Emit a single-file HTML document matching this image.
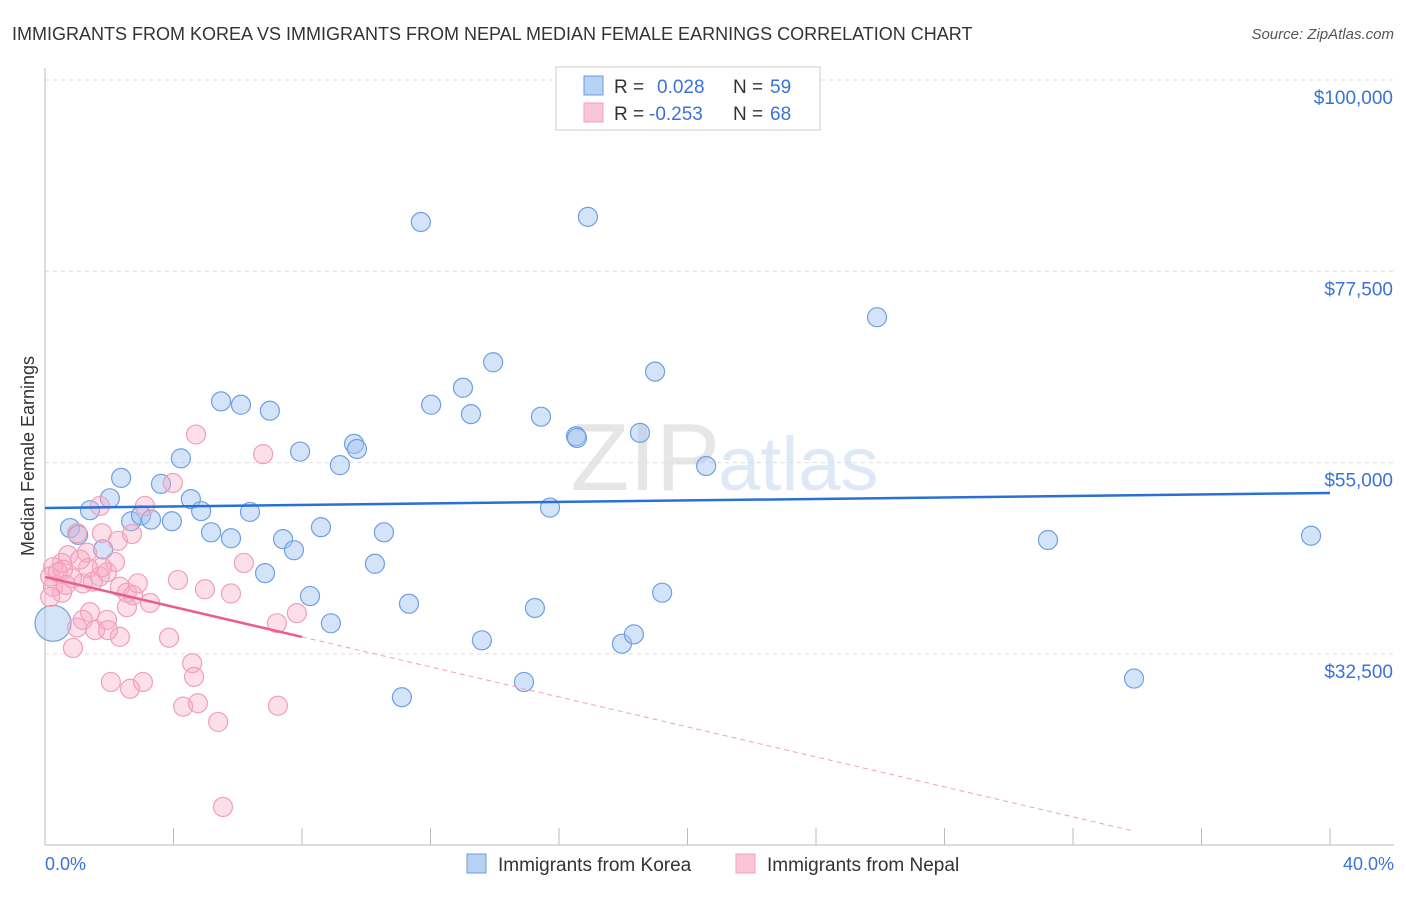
<!DOCTYPE html>
<html><head><meta charset="utf-8"><style>
body{margin:0;background:#fff;font-family:"Liberation Sans",sans-serif}
svg text{font-family:"Liberation Sans",sans-serif}
</style></head><body>
<svg id="chart" width="1406" height="892">
<text x="12" y="40" font-size="18" fill="#333">IMMIGRANTS FROM KOREA VS IMMIGRANTS FROM NEPAL MEDIAN FEMALE EARNINGS CORRELATION CHART</text>
<text x="1394" y="39" font-size="15" fill="#555" font-style="italic" text-anchor="end">Source: ZipAtlas.com</text>
<text x="720" y="490" font-size="96" fill="#e6e6e6" text-anchor="end" font-family="Liberation Serif">ZIP</text>
<text x="718" y="490" font-size="76" fill="#dfe9f6">atlas</text>
<g id="grid"></g>
<line x1="45" y1="68" x2="45" y2="845" stroke="#bbb"/>
<line x1="45" y1="845" x2="1394" y2="845" stroke="#bbb"/>
<text transform="translate(34,456) rotate(-90)" font-size="18" fill="#333" text-anchor="middle">Median Female Earnings</text>
<text x="45" y="870" font-size="18" fill="#3a72d8">0.0%</text>
<text x="1394" y="870" font-size="18" fill="#3a72d8" text-anchor="end">40.0%</text>
<g id="marks"></g>
<g id="trend"></g>
<g>
<rect x="556" y="67" width="264" height="63" fill="#fff" stroke="#ccc"/>
<rect x="584" y="76" width="19" height="19" fill="#b8d2f4" stroke="#6a9be0"/>
<rect x="584" y="103" width="19" height="19" fill="#f8c6d5" stroke="#f0a0b8"/>
<text x="614" y="93" font-size="19" fill="#333">R = </text><text x="657" y="93" font-size="19" fill="#3a72d8">0.028</text>
<text x="733" y="93" font-size="19" fill="#333">N = </text><text x="770" y="93" font-size="19" fill="#3a72d8">59</text>
<text x="614" y="120" font-size="19" fill="#333">R = </text><text x="649" y="120" font-size="19" fill="#3a72d8">-0.253</text>
<text x="733" y="120" font-size="19" fill="#333">N = </text><text x="770" y="120" font-size="19" fill="#3a72d8">68</text>
</g>
<g>
<rect x="467" y="854" width="19" height="19" fill="#b8d2f4" stroke="#6a9be0"/>
<text x="498" y="871" font-size="19" fill="#333">Immigrants from Korea</text>
<rect x="736" y="854" width="19" height="19" fill="#f8c6d5" stroke="#f0a0b8"/>
<text x="767" y="871" font-size="19" fill="#333">Immigrants from Nepal</text>
</g>
</svg>
<script>
const yTicks=[100000,77500,55000,32500];
const yTickLabels=["$100,000","$77,500","$55,000","$32,500"];
const xTicks=[0,4,8,12,16,20,24,28,32,36,40];
const koreaX=[0.25,0.78,1.03,1.40,1.81,2.02,2.37,2.68,2.99,3.30,3.61,3.95,4.23,4.54,4.86,5.17,5.48,5.79,6.10,6.38,6.85,7.00,7.41,7.75,7.94,8.25,8.59,8.90,9.18,9.62,9.71,10.27,10.55,11.11,11.33,11.70,12.02,13.01,13.26,13.60,13.95,14.91,15.25,15.44,15.72,16.53,16.56,16.90,17.96,18.33,18.52,18.99,19.21,20.58,25.90,31.22,33.90,39.41];
const koreaY=[36.1,47.3,46.5,49.4,44.8,50.8,53.2,48.1,48.8,48.3,52.5,48.1,55.5,50.7,49.3,46.8,62.2,46.1,61.8,49.2,42.0,61.1,46.0,44.7,56.3,39.3,47.4,36.1,54.7,57.2,56.6,43.1,46.8,27.4,38.4,83.3,61.8,63.8,60.7,34.1,66.8,29.2,37.9,60.4,49.7,58.1,57.9,83.9,33.7,34.8,58.5,65.7,39.7,54.6,72.1,45.9,29.6,46.4];
const nepalX=[4.70,6.79,3.98,3.11,1.71,1.77,2.27,2.71,1.00,1.31,0.72,0.53,0.25,0.16,0.25,0.53,1.18,1.49,1.71,1.93,2.18,1.77,2.33,2.55,2.74,2.89,2.55,3.27,4.14,4.98,5.79,6.19,7.84,7.22,1.40,1.18,1.00,1.56,1.93,1.96,2.33,0.87,3.86,4.58,4.64,2.05,2.65,3.05,4.30,4.76,5.39,7.25,0.16,0.56,5.54,0.40,0.84,1.34,0.65,1.09];
const nepalY=[58.3,56.0,52.6,49.9,49.9,46.7,45.8,46.6,46.7,44.4,44.1,43.2,42.7,41.6,40.4,39.7,40.8,41.0,41.6,42.1,43.3,42.7,40.4,39.7,39.4,40.8,38.0,38.5,41.2,40.1,39.6,43.2,37.3,36.1,37.4,36.5,35.6,35.3,36.5,35.3,34.5,33.2,34.4,31.4,29.8,29.2,28.4,29.2,26.3,26.7,24.5,26.4,39.2,42.4,14.5,42.1,41.4,42.6,40.6,43.6];
const koreaTrend=[49667,51431];
const nepalTrend=[41553,34497];
const sx=v=>45+v*32.125;
const sy=v=>80+(100000-v)/22500*191.3;
const NS="http://www.w3.org/2000/svg";
function mk(tag,attrs,parent){const e=document.createElementNS(NS,tag);for(const k in attrs)e.setAttribute(k,attrs[k]);parent.appendChild(e);return e;}
const grid=document.getElementById('grid');
yTicks.forEach((t,i)=>{
 const l=mk('line',{x1:45,x2:1394,y1:sy(t),y2:sy(t),stroke:'#ddd','stroke-dasharray':'4,4'},grid);
 
 
 const tx=mk('text',{x:1393,y:sy(t)+24,'font-size':19,fill:'#3a72d8','text-anchor':'end'},grid);
 tx.textContent=yTickLabels[i];
 
 
});
xTicks.forEach(t=>{
 const l=mk('line',{x1:sx(t),x2:sx(t),y1:828,y2:845,stroke:'#bbb'},grid);
 
 
});
const marks=document.getElementById('marks');
koreaX.forEach((x,i)=>{
 const c=mk('circle',{cx:sx(x),cy:sy(koreaY[i]*1000),r:i===0?18:9.5,fill:'rgba(160,196,240,0.45)',stroke:'#6f9fe2','stroke-width':1.2},marks);
 
 
});
nepalX.forEach((x,i)=>{
 const c=mk('circle',{cx:sx(x),cy:sy(nepalY[i]*1000),r:9.5,fill:'rgba(246,172,196,0.38)',stroke:'#f0a0b8','stroke-width':1.2},marks);
 
 
});
const tr=document.getElementById('trend');
const kt=mk('line',{x1:sx(0),y1:sy(koreaTrend[0]),x2:sx(40),y2:sy(koreaTrend[1]),stroke:'#2a6fd6','stroke-width':2.5},tr);


const slope=(nepalTrend[1]-nepalTrend[0])/8;
const nt=mk('line',{x1:sx(0),y1:sy(nepalTrend[0]),x2:sx(8),y2:sy(nepalTrend[1]),stroke:'#e8608a','stroke-width':2.5},tr);


const xe=33.8;
const nd=mk('line',{x1:sx(8),y1:sy(nepalTrend[1]),x2:sx(xe),y2:sy(nepalTrend[0]+slope*xe),stroke:'#f0a0b8','stroke-width':1,'stroke-dasharray':'5,4'},tr);


</script>
</body></html>
